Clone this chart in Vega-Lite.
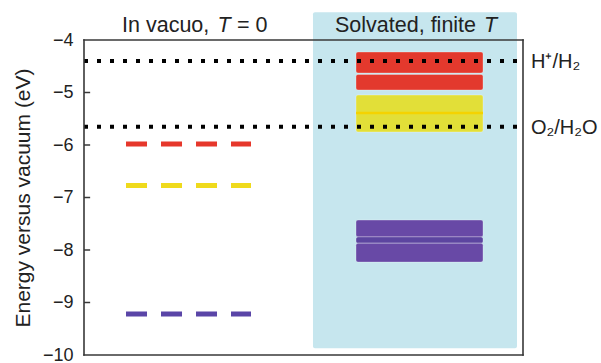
{
  "$schema": "https://vega.github.io/schema/vega-lite/v6.json",
  "width": 439,
  "height": 315,
  "autosize": {"type": "none"},
  "padding": {"left": 84, "top": 40, "right": 78, "bottom": 8},
  "background": "#ffffff",
  "config": {"view": {"stroke": null}, "font": "Liberation Sans"},
  "layer": [
    {
      "data": {"values": [{"x": 52.16, "x2": 98.63, "y": -3.47, "y2": -9.87}]},
      "mark": {"type": "rect", "color": "#c6e6ee", "cornerRadius": 2},
      "encoding": {
        "x": {"field": "x", "type": "quantitative", "scale": {"domain": [0, 100], "nice": false, "zero": false}, "axis": null},
        "x2": {"field": "x2"},
        "y": {"field": "y", "type": "quantitative", "scale": {"domain": [-10, -4], "nice": false, "zero": false},
          "axis": {"values": [-10, -9, -8, -7, -6, -5, -4], "domain": false, "grid": false, "ticks": false,
            "title": "Energy versus vacuum (eV)", "titleFont": "Liberation Sans", "titleFontSize": 21, "titleFontWeight": "normal", "titleColor": "#222222", "titlePadding": 9,
            "labelFont": "Liberation Sans", "labelFontSize": 18, "labelColor": "#222222", "labelPadding": 11, "zindex": 1}},
        "y2": {"field": "y2"}
      }
    },
    {
      "data": {"values": [
        {"x": 61.96, "x2": 90.89, "y": -4.229, "y2": -4.629, "kind": "red"},
        {"x": 61.96, "x2": 90.89, "y": -4.657, "y2": -4.952, "kind": "red"},
        {"x": 61.96, "x2": 90.89, "y": -5.048, "y2": -5.752, "kind": "yellow"},
        {"x": 61.96, "x2": 90.89, "y": -7.43, "y2": -7.75, "kind": "purple"},
        {"x": 61.96, "x2": 90.89, "y": -7.75, "y2": -7.87, "kind": "purple_mid"},
        {"x": 61.96, "x2": 90.89, "y": -7.87, "y2": -8.23, "kind": "purple"}
      ]},
      "mark": {"type": "rect", "cornerRadius": 2, "stroke": "#ffffff", "strokeOpacity": 0.3, "strokeWidth": 1},
      "encoding": {
        "x": {"field": "x", "type": "quantitative", "axis": null},
        "x2": {"field": "x2"},
        "y": {"field": "y", "type": "quantitative"},
        "y2": {"field": "y2"},
        "color": {"field": "kind", "type": "nominal", "legend": null,
          "scale": {"domain": ["red", "yellow", "purple", "purple_mid"], "range": ["#e3392d", "#e2df38", "#6849a6", "#5c45a0"]}}
      }
    },
    {
      "data": {"values": [{"x": 61.96, "x2": 90.89, "y": -5.39}]},
      "mark": {"type": "rule", "color": "#f5d300", "strokeWidth": 2.5},
      "encoding": {
        "x": {"field": "x", "type": "quantitative", "axis": null},
        "x2": {"field": "x2"},
        "y": {"field": "y", "type": "quantitative"}
      }
    },
    {
      "data": {"values": [
        {"x": 9.57, "x2": 38.04, "y": -5.98, "kind": "red"},
        {"x": 9.57, "x2": 38.04, "y": -6.77, "kind": "yellow"},
        {"x": 9.57, "x2": 38.04, "y": -9.22, "kind": "purple"}
      ]},
      "mark": {"type": "rule", "strokeWidth": 5, "strokeDash": [21, 14], "strokeCap": "butt"},
      "encoding": {
        "x": {"field": "x", "type": "quantitative", "axis": null},
        "x2": {"field": "x2"},
        "y": {"field": "y", "type": "quantitative"},
        "color": {"field": "kind", "type": "nominal", "legend": null,
          "scale": {"domain": ["red", "yellow", "purple"], "range": ["#e6372b", "#efda1c", "#5a45a7"]}}
      }
    },
    {
      "data": {"values": [
        {"x": 0, "x2": 100, "y": -4.40},
        {"x": 0, "x2": 100, "y": -5.65}
      ]},
      "mark": {"type": "rule", "color": "#000000", "strokeWidth": 4, "strokeDash": [4, 9], "strokeCap": "butt"},
      "encoding": {
        "x": {"field": "x", "type": "quantitative", "axis": null},
        "x2": {"field": "x2"},
        "y": {"field": "y", "type": "quantitative"}
      }
    },
    {
      "data": {"values": [
        {"x": 0, "x2": 1.4, "y": -5},
        {"x": 0, "x2": 1.4, "y": -6},
        {"x": 0, "x2": 1.4, "y": -7},
        {"x": 0, "x2": 1.4, "y": -8},
        {"x": 0, "x2": 1.4, "y": -9}
      ]},
      "mark": {"type": "rule", "color": "#383838", "strokeWidth": 1.5},
      "encoding": {
        "x": {"field": "x", "type": "quantitative", "axis": null},
        "x2": {"field": "x2"},
        "y": {"field": "y", "type": "quantitative"}
      }
    },
    {
      "data": {"values": [
        {"x": 0, "x2": 100, "y": -4, "y2": -4},
        {"x": 0, "x2": 100, "y": -10, "y2": -10},
        {"x": 0, "x2": 0, "y": -10, "y2": -4},
        {"x": 100, "x2": 100, "y": -10, "y2": -4}
      ]},
      "mark": {"type": "rule", "color": "#383838", "strokeWidth": 1.6, "strokeCap": "square"},
      "encoding": {
        "x": {"field": "x", "type": "quantitative", "axis": null},
        "x2": {"field": "x2"},
        "y": {"field": "y", "type": "quantitative"},
        "y2": {"field": "y2"}
      }
    },
    {
      "data": {"values": [
        {"x": 8.66, "y": -3.848, "label": "In vacuo,"},
        {"x": 34.85, "y": -3.848, "label": "= 0"},
        {"x": 57.18, "y": -3.848, "label": "Solvated, finite"}
      ]},
      "mark": {"type": "text", "align": "left", "baseline": "alphabetic", "fontSize": 21.5, "font": "Liberation Sans", "color": "#222222"},
      "encoding": {
        "x": {"field": "x", "type": "quantitative", "axis": null},
        "y": {"field": "y", "type": "quantitative"},
        "text": {"field": "label"}
      }
    },
    {
      "data": {"values": [
        {"x": 30.4, "y": -3.848, "label": "T"},
        {"x": 91.12, "y": -3.848, "label": "T"}
      ]},
      "mark": {"type": "text", "align": "left", "baseline": "alphabetic", "fontSize": 21.5, "font": "Liberation Sans", "fontStyle": "italic", "color": "#222222"},
      "encoding": {
        "x": {"field": "x", "type": "quantitative", "axis": null},
        "y": {"field": "y", "type": "quantitative"},
        "text": {"field": "label"}
      }
    },
    {
      "data": {"values": [
        {"x": 101.82, "y": -4.40, "label": "H⁺/H₂"},
        {"x": 101.82, "y": -5.65, "label": "O₂/H₂O"}
      ]},
      "mark": {"type": "text", "align": "left", "baseline": "middle", "fontSize": 20, "font": "Liberation Sans", "color": "#222222", "dy": 1},
      "encoding": {
        "x": {"field": "x", "type": "quantitative", "axis": null},
        "y": {"field": "y", "type": "quantitative"},
        "text": {"field": "label"}
      }
    }
  ],
  "resolve": {"scale": {"color": "independent"}}
}
